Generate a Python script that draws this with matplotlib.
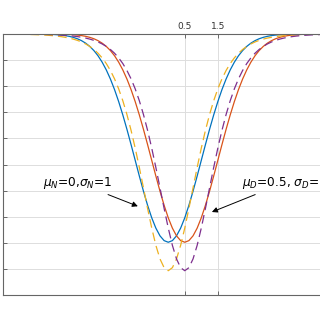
import numpy as np
import matplotlib
matplotlib.use("Agg")
import matplotlib.pyplot as plt

# x grid shared by all four curves
x = np.arange(-5, 5.001, 0.125)

# solid blue: mu_N=0, sigma_N=1
y_solid_n = [0, 0, 0.00001, 0.00001, 0.00002, 0.00003, 0.00005, 0.00008, 0.00013, 0.00022,
             0.00035, 0.00056, 0.00087, 0.00134, 0.00203, 0.00302, 0.00443, 0.00640, 0.00909, 0.01272,
             0.01753, 0.02377, 0.03174, 0.04172, 0.05399, 0.06879, 0.08628, 0.10654, 0.12952, 0.15501,
             0.18265, 0.21188, 0.24197, 0.27206, 0.30114, 0.32816, 0.35207, 0.37186, 0.38667, 0.39584,
             0.39894,
             0.39584, 0.38667, 0.37186, 0.35207, 0.32816, 0.30114, 0.27206, 0.24197, 0.21188, 0.18265,
             0.15501, 0.12952, 0.10654, 0.08628, 0.06879, 0.05399, 0.04172, 0.03174, 0.02377, 0.01753,
             0.01272, 0.00909, 0.00640, 0.00443, 0.00302, 0.00203, 0.00134, 0.00087, 0.00056, 0.00035,
             0.00022, 0.00013, 0.00008, 0.00005, 0.00003, 0.00002, 0.00001, 0.00001, 0, 0]

# solid red: mu_D=0.5, sigma_D=1
y_solid_d = [0, 0, 0, 0,
             0, 0, 0.00001, 0.00001, 0.00002, 0.00003, 0.00005, 0.00008, 0.00013, 0.00022,
             0.00035, 0.00056, 0.00087, 0.00134, 0.00203, 0.00302, 0.00443, 0.00640, 0.00909, 0.01272,
             0.01753, 0.02377, 0.03174, 0.04172, 0.05399, 0.06879, 0.08628, 0.10654, 0.12952, 0.15501,
             0.18265, 0.21188, 0.24197, 0.27206, 0.30114, 0.32816, 0.35207, 0.37186, 0.38667, 0.39584,
             0.39894,
             0.39584, 0.38667, 0.37186, 0.35207, 0.32816, 0.30114, 0.27206, 0.24197, 0.21188, 0.18265,
             0.15501, 0.12952, 0.10654, 0.08628, 0.06879, 0.05399, 0.04172, 0.03174, 0.02377, 0.01753,
             0.01272, 0.00909, 0.00640, 0.00443, 0.00302, 0.00203, 0.00134, 0.00087, 0.00056, 0.00035,
             0.00022, 0.00013, 0.00008, 0.00005, 0.00003, 0.00002]

# dashed yellow, centred at 0
y_dash_n = [0.00021, 0.00026, 0.00033, 0.00041, 0.00052, 0.00065, 0.00081, 0.00102, 0.00128, 0.00161,
            0.00202, 0.00252, 0.00317, 0.00396, 0.00497, 0.00622, 0.00779, 0.00975, 0.01220, 0.01526,
            0.01905, 0.02378, 0.02962, 0.03686, 0.04577, 0.05663, 0.06989, 0.08595, 0.10511, 0.12780,
            0.15430, 0.18461, 0.21860, 0.25569, 0.29473, 0.33412, 0.37165, 0.40481, 0.43092, 0.44768,
            0.45345,
            0.44768, 0.43092, 0.40481, 0.37165, 0.33412, 0.29473, 0.25569, 0.21860, 0.18461, 0.15430,
            0.12780, 0.10511, 0.08595, 0.06989, 0.05663, 0.04577, 0.03686, 0.02962, 0.02378, 0.01905,
            0.01526, 0.01220, 0.00975, 0.00779, 0.00622, 0.00497, 0.00396, 0.00317, 0.00252, 0.00202,
            0.00161, 0.00128, 0.00102, 0.00081, 0.00065, 0.00052, 0.00041, 0.00033, 0.00026, 0.00021]

# dashed purple, centred at 0.5
y_dash_d = [0.00008, 0.00011, 0.00013, 0.00017,
            0.00021, 0.00026, 0.00033, 0.00041, 0.00052, 0.00065, 0.00081, 0.00102, 0.00128, 0.00161,
            0.00202, 0.00252, 0.00317, 0.00396, 0.00497, 0.00622, 0.00779, 0.00975, 0.01220, 0.01526,
            0.01905, 0.02378, 0.02962, 0.03686, 0.04577, 0.05663, 0.06989, 0.08595, 0.10511, 0.12780,
            0.15430, 0.18461, 0.21860, 0.25569, 0.29473, 0.33412, 0.37165, 0.40481, 0.43092, 0.44768,
            0.45345,
            0.44768, 0.43092, 0.40481, 0.37165, 0.33412, 0.29473, 0.25569, 0.21860, 0.18461, 0.15430,
            0.12780, 0.10511, 0.08595, 0.06989, 0.05663, 0.04577, 0.03686, 0.02962, 0.02378, 0.01905,
            0.01526, 0.01220, 0.00975, 0.00779, 0.00622, 0.00497, 0.00396, 0.00317, 0.00252, 0.00202,
            0.00161, 0.00128, 0.00102, 0.00081, 0.00065, 0.00052]

xticks = [0.5, 1.5]
xtick_labels = ["0.5", "1.5"]
yticks = np.arange(0, 0.501, 0.05)

fig = plt.figure(figsize=(3.2, 3.2), dpi=100)
ax = fig.add_axes([3 / 320, 25 / 320, 330.5 / 320, 261 / 320])

lw = 0.9
ax.plot(x, y_solid_n, color="#0072BD", lw=lw)
ax.plot(x, y_solid_d, color="#D95319", lw=lw)
ax.plot(x, y_dash_n, color="#EDB120", lw=lw, ls=(0, (7, 4)))
ax.plot(x, y_dash_d, color="#7E2F8E", lw=lw, ls=(0, (7, 4)))

ax.set_xlim(-5, 5)
ax.set_ylim(0.5, 0)  # picture is upside down

ax.xaxis.tick_top()
ax.set_xticks(xticks)
ax.set_xticklabels(xtick_labels, fontsize=6.5, color="#333333")
ax.set_yticks(yticks)
ax.set_yticklabels([])
ax.tick_params(direction="in", length=3, width=0.6, color="#555555", pad=2,
               top=True, bottom=True, left=True, right=True)
ax.grid(True, color="#dddddd", lw=0.7)
ax.set_axisbelow(True)
for s in ax.spines.values():
    s.set_color("#666666")
    s.set_linewidth(0.8)

arrow = dict(arrowstyle="-|>", color="black", lw=0.7, mutation_scale=8, shrinkA=2, shrinkB=0)
ax.annotate(r"$\mu_N$=0,$\sigma_N$=1", xy=(-0.92, 0.33), xytext=(-1.68, 0.285),
            ha="right", va="center", fontsize=8.7, arrowprops=arrow)
ax.annotate(r"$\mu_D$=0.5, $\sigma_D$=1", xy=(1.32, 0.341), xytext=(2.23, 0.285),
            ha="left", va="center", fontsize=8.7, arrowprops=arrow)

fig.savefig("out.png", dpi=100)
